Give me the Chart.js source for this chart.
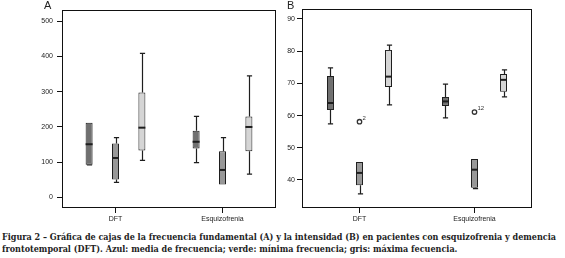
<!DOCTYPE html>
<html>
<head>
<meta charset="utf-8">
<script src="https://cdn.jsdelivr.net/npm/chart.js@4"></script>
<style>
  html,body{margin:0;padding:0;background:#fff;}
  body{width:565px;height:258px;position:relative;overflow:hidden;}
  canvas{position:absolute;top:0;}
  .plabel{position:absolute;font-family:"Liberation Sans",Arial,sans-serif;font-size:11px;color:#222;line-height:11px;}
  .cap{position:absolute;left:2px;font-family:"DejaVu Serif",serif;font-weight:bold;font-size:9px;line-height:12px;color:#222;white-space:nowrap;transform-origin:0 0;}
</style>
</head>
<body>
<canvas id="cA" width="280" height="228" style="left:0px"></canvas>
<canvas id="cB" width="285" height="228" style="left:280px"></canvas>
<div class="plabel" style="left:44px;top:0px">A</div>
<div class="plabel" style="left:287px;top:0px">B</div>
<div class="cap" id="cap1" style="top:231px">Figura 2 – Gráfica de cajas de la frecuencia fundamental (A) y la intensidad (B) en pacientes con esquizofrenia y demencia</div>
<div class="cap" id="cap2" style="top:243px">frontotemporal (DFT). Azul: media de frecuencia; verde: mínima frecuencia; gris: máxima fecuencia.</div>
<script>
// ---- Data ----
const categories = ["DFT", "Esquizofrenia"];
const seriesNames = ["Media de frecuencia", "Mínima frecuencia", "Máxima frecuencia"];

// Panel A: frecuencia fundamental
const ticksA = [0, 100, 200, 300, 400, 500];
const mediaA_low = [92, 99],  mediaA_q1 = [93, 139],  mediaA_med = [151, 158], mediaA_q3 = [212, 189], mediaA_high = [212, 230];
const minA_low   = [43, 37],  minA_q1   = [51, 37],   minA_med   = [112, 78],  minA_q3   = [153, 131], minA_high   = [170, 170];
const maxA_low   = [105, 66], maxA_q1   = [133, 131], maxA_med   = [198, 200], maxA_q3   = [298, 230], maxA_high   = [409, 345];

// Panel B: intensidad
const ticksB = [40, 50, 60, 70, 80, 90];
const mediaB_low = [57.4, 59.3], mediaB_q1 = [61.7, 63.0], mediaB_med = [63.9, 64.4], mediaB_q3 = [72.3, 65.8], mediaB_high = [74.8, 69.8];
const minB_low   = [35.7, 37.3], minB_q1   = [38.4, 37.6], minB_med   = [42.2, 43.2], minB_q3   = [45.6, 46.5], minB_high   = [45.6, 46.5];
const maxB_low   = [63.3, 65.8], maxB_q1   = [68.9, 67.4], maxB_med   = [72.1, 71.1], maxB_q3   = [80.4, 72.9], maxB_high   = [81.9, 74.2];
const outliersB = [ {series: 1, cat: 0, value: 58.1, label: "2"}, {series: 1, cat: 1, value: 61.1, label: "12"} ];

const boxColors = ["#707070", "#989898", "#d5d5d5"];
const lineColor = "#1e1e1e";

function buildStats(low, q1, med, q3, high) {
  return low.map((_, i) => ({low: low[i], q1: q1[i], med: med[i], q3: q3[i], high: high[i]}));
}

const statsA = [
  buildStats(mediaA_low, mediaA_q1, mediaA_med, mediaA_q3, mediaA_high),
  buildStats(minA_low, minA_q1, minA_med, minA_q3, minA_high),
  buildStats(maxA_low, maxA_q1, maxA_med, maxA_q3, maxA_high)
];
const statsB = [
  buildStats(mediaB_low, mediaB_q1, mediaB_med, mediaB_q3, mediaB_high),
  buildStats(minB_low, minB_q1, minB_med, minB_q3, minB_high),
  buildStats(maxB_low, maxB_q1, maxB_med, maxB_q3, maxB_high)
];

const boxPlugin = {
  id: 'boxWhisk',
  afterDatasetsDraw(chart, args, opts) {
    const ctx = chart.ctx, y = chart.scales.y;
    const stats = opts.stats;
    ctx.save();
    ctx.strokeStyle = lineColor;
    stats.forEach((ser, si) => {
      const meta = chart.getDatasetMeta(si);
      ser.forEach((s, ci) => {
        const el = meta.data[ci];
        const x = Math.round(el.x) + 0.5;
        const w = el.width;
        const cap = 2.6;
        const pq1 = y.getPixelForValue(s.q1), pq3 = y.getPixelForValue(s.q3);
        const pl = y.getPixelForValue(s.low), ph = y.getPixelForValue(s.high);
        ctx.lineWidth = 1.2;
        ctx.beginPath();
        if (s.low !== s.q1) {
          ctx.moveTo(x, pq1); ctx.lineTo(x, pl);
          ctx.moveTo(x - cap, pl); ctx.lineTo(x + cap, pl);
        }
        if (s.high !== s.q3) {
          ctx.moveTo(x, pq3); ctx.lineTo(x, ph);
          ctx.moveTo(x - cap, ph); ctx.lineTo(x + cap, ph);
        }
        ctx.stroke();
        // median
        const pm = y.getPixelForValue(s.med);
        ctx.lineWidth = 2;
        ctx.beginPath();
        ctx.moveTo(el.x - w / 2, pm); ctx.lineTo(el.x + w / 2, pm);
        ctx.stroke();
      });
    });
    (opts.outliers || []).forEach(o => {
      const el = chart.getDatasetMeta(o.series).data[o.cat];
      const py = y.getPixelForValue(o.value);
      ctx.lineWidth = 1.3;
      ctx.strokeStyle = "#333";
      ctx.beginPath();
      ctx.arc(el.x, py, 2.2, 0, Math.PI * 2);
      ctx.stroke();
      ctx.fillStyle = "#333";
      ctx.font = "6px 'Liberation Sans', Arial, sans-serif";
      ctx.textBaseline = "alphabetic";
      ctx.textAlign = "left";
      ctx.fillText(o.label, el.x + 3, py - 2);
    });
    ctx.restore();
  }
};

const framePlugin = {
  id: 'frame',
  afterDraw(chart) {
    const a = chart.chartArea, ctx = chart.ctx;
    ctx.save();
    ctx.strokeStyle = "#111";
    ctx.lineWidth = 1;
    ctx.strokeRect(Math.round(a.left) + 0.5, Math.round(a.top) + 0.5,
                   Math.round(a.right - a.left) - 1, Math.round(a.bottom - a.top) - 1);
    ctx.restore();
  }
};

function makePanel(id, stats, tickVals, cfg) {
  const datasets = stats.map((ser, i) => ({
    label: seriesNames[i],
    data: ser.map(s => [s.q1, s.q3]),
    backgroundColor: boxColors[i],
    borderColor: lineColor,
    borderWidth: 1,
    borderSkipped: false,
    barPercentage: cfg.barPct,
    categoryPercentage: cfg.catPct
  }));
  const tickFont = {family: "'Liberation Sans', Arial, sans-serif", size: 7};
  return new Chart(document.getElementById(id), {
    type: 'bar',
    data: {labels: categories, datasets},
    plugins: [boxPlugin, framePlugin],
    options: {
      responsive: false,
      animation: false,
      devicePixelRatio: 1,
      layout: {padding: {top: cfg.top, right: cfg.right, left: 0, bottom: 0}},
      plugins: {
        legend: {display: false},
        tooltip: {enabled: false},
        boxWhisk: {stats, outliers: cfg.outliers}
      },
      scales: {
        x: {
          offset: true,
          grid: {offset: false, drawOnChartArea: false, drawTicks: true, tickLength: 5, color: "#111", lineWidth: 1},
          border: {display: false},
          ticks: {font: tickFont, color: "#222", padding: 2, maxRotation: 0},
          afterFit(s) { s.height = cfg.xh; }
        },
        y: {
          min: cfg.min, max: cfg.max,
          grid: {drawOnChartArea: false, drawTicks: true, tickLength: 5, color: "#111", lineWidth: 1},
          border: {display: false},
          ticks: {font: tickFont, color: "#222", padding: cfg.tpad},
          afterBuildTicks(s) { s.ticks = tickVals.map(v => ({value: v})); },
          afterFit(s) { s.width = cfg.yw; }
        }
      }
    }
  });
}

makePanel('cA', statsA, ticksA, {min: -30, max: 532, top: 10, right: 4, yw: 62, xh: 20, tpad: 4, barPct: 0.265, catPct: 0.74});
makePanel('cB', statsB, ticksB, {min: 31.3, max: 93.1, top: 9, right: 33, yw: 22, xh: 20, tpad: 2, barPct: 0.24, catPct: 0.757, outliers: outliersB});

// fit caption to reference width
(function(){
  const c1 = document.getElementById('cap1'), c2 = document.getElementById('cap2');
  const w = c1.getBoundingClientRect().width;
  const k = 554 / w;
  c1.style.transform = c2.style.transform = 'scaleX(' + k + ')';
})();
</script>
</body>
</html>
